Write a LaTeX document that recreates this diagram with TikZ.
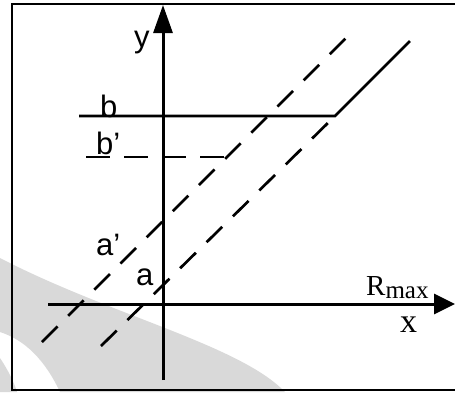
\documentclass[tikz,border=0pt]{standalone}
\usepackage{fontspec}
\setmainfont{Liberation Serif}
\setsansfont{Liberation Sans}
\usepackage{tikz}
\usetikzlibrary{arrows.meta}
\definecolor{WatermarkGray}{HTML}{D9D9D9}

\begin{document}
\begin{tikzpicture}[
    x=1pt,y=-1pt,
    frameline/.style={line width=1.4pt},
    axisline/.style={line width=3pt},
    edgeline/.style={line width=2.8pt},
    cutline/.style={line width=2.7pt,dash pattern=on 22pt off 15pt},
    sanslabel/.style={font=\sffamily\fontsize{31}{31}\selectfont,inner sep=0pt,anchor=base west},
    seriflabel/.style={font=\fontsize{29}{29}\selectfont,inner sep=0pt,anchor=base west}
  ]
  \useasboundingbox (0,0) rectangle (455,392);

  % watermark in the back
  \fill[WatermarkGray] (0,258) .. controls (110,315) and (240,345) .. (285,392)
    -- (60,392) .. controls (45,360) and (25,340) .. (0,332) -- cycle;
  \fill[WatermarkGray] (0,358) .. controls (8,370) and (14,382) .. (17,392) -- (0,392) -- cycle;

  % frame
  \draw[frameline] (455,4) -- (12,4) -- (12,390) -- (455,390);

  % axes
  \coordinate (ybot) at (163,380);
  \coordinate (ytop) at (163,5);
  \coordinate (xleft) at (48,304);
  \coordinate (xright) at (455,304);
  \draw[axisline,-{Triangle[length=28pt,width=19pt]}] (ybot) -- (ytop);
  \draw[axisline,-{Triangle[length=21pt,width=20pt]}] (xleft) -- (xright);

  % solid limit b, then the rising edge
  \coordinate (bL) at (79,116);
  \coordinate (bC) at (335,116);
  \coordinate (bT) at (410,41);
  \draw[edgeline,line join=miter] (bL) -- (bC) -- (bT);

  % dashed lines
  \coordinate (bpL) at (86,157);
  \coordinate (bpR) at (225,157);
  \coordinate (aL) at (101,346);
  \coordinate (apL) at (42,342);
  \coordinate (apR) at (351,33);
  \draw[cutline,dash pattern=on 24pt off 14pt] (bpL) -- (bpR);
  \draw[cutline] (aL) -- (bC);
  \draw[cutline] (apL) -- (apR);

  % labels
  \node[sanslabel] (ylab) at (134,47) {y};
  \node[sanslabel] (blab) at (100,117) {b};
  \node[sanslabel] (bplab) at (96,154) {b’};
  \node[sanslabel] (aplab) at (96,255) {a’};
  \node[sanslabel] (alab) at (136,285) {a};
  \node[seriflabel] (rlab) at (366,295) {R\raisebox{-3pt}{\fontsize{25}{25}\selectfont max}};
  \node[seriflabel,font=\fontsize{34}{34}\selectfont] (xlab) at (400,332) {x};
\end{tikzpicture}
\end{document}
